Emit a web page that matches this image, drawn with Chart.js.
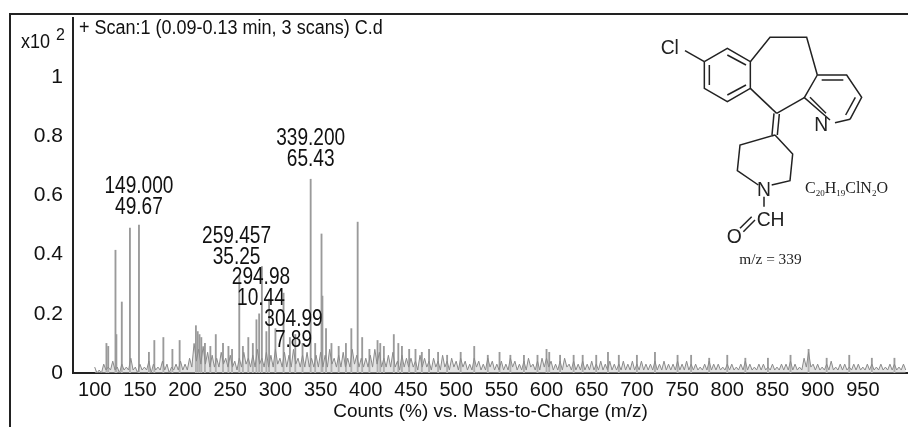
<!DOCTYPE html>
<html>
<head>
<meta charset="utf-8">
<script src="https://cdn.jsdelivr.net/npm/chart.js@4/dist/chart.umd.min.js"></script>
<style>
  body { margin: 0; background: #fff; }
  #wrap { position: relative; width: 908px; height: 427px; overflow: hidden; }
  #frame { position: absolute; left: 9px; top: 13px; width: 905px; height: 420px; border: 2px solid #222; box-sizing: border-box; }
  #mol { position: absolute; left: 620px; top: 0; }
</style>
</head>
<body>
<div id="wrap">
  <canvas id="spec" width="908" height="427"></canvas>
  <div id="frame"></div>
  <svg id="mol" width="288" height="300" viewBox="0 0 864 900" fill="none" stroke="#222" stroke-width="4.5">
    <!-- benzene -->
    <polyline points="253,185 322,145 391,185 391,265 322,305 253,265 253,185"/>
    <line x1="268" y1="195" x2="268" y2="255"/>
    <line x1="322" y1="165" x2="378" y2="195"/>
    <line x1="322" y1="285" x2="378" y2="255"/>
    <line x1="253" y1="185" x2="195" y2="152"/>
    <!-- seven ring -->
    <polyline points="391,185 450,112 560,112 592,225"/>
    <line x1="391" y1="265" x2="470" y2="340"/>
    <line x1="470" y1="340" x2="553" y2="293"/>
    <!-- pyridine -->
    <polyline points="592,225 680,225 725,292 690,358"/>
    <polyline points="630,360 553,293 592,225"/>
    <line x1="605" y1="240" x2="670" y2="240"/>
    <line x1="706" y1="292" x2="677" y2="345"/>
    <line x1="570" y1="292" x2="618" y2="340"/>
    <line x1="645" y1="368" x2="690" y2="358"/>
    <!-- exocyclic double bond -->
    <line x1="462" y1="340" x2="456" y2="405"/>
    <line x1="478" y1="342" x2="472" y2="405"/>
    <!-- piperidine -->
    <polyline points="465,405 518,462 510,542 455,555"/>
    <polyline points="415,555 352,512 360,435 465,405"/>
    <line x1="432" y1="590" x2="432" y2="620"/>
    <line x1="395" y1="650" x2="360" y2="685"/>
    <line x1="405" y1="660" x2="370" y2="695"/>
    <g fill="#222" stroke="none" font-family="Liberation Sans, Arial, sans-serif" font-size="58">
      <text x="122" y="162">Cl</text>
      <text x="583" y="394">N</text>
      <text x="411" y="587">N</text>
      <text x="410" y="677">CH</text>
      <text x="320" y="728">O</text>
    </g>
    <g fill="#222" stroke="none" font-family="Liberation Serif, Times New Roman, serif">
      <text x="555" y="580" font-size="48">C<tspan font-size="27" dy="8">20</tspan><tspan dy="-8">H</tspan><tspan font-size="27" dy="8">19</tspan><tspan dy="-8">ClN</tspan><tspan font-size="27" dy="8">2</tspan><tspan dy="-8">O</tspan></text>
      <text x="358" y="792" font-size="46">m/z = 339</text>
    </g>
  </svg>
</div>
<script>
// noise floor, every 5 m/z from 100 (local maxima)
var noiseStart = 100;
var noiseStep = 5;
var noise = [
  .02,.01,.03,.02,.04,.02,.03,.02,.05,.02,
  .03,.02,.04,.03,.02,.04,.03,.02,.03,.04,
  .03,.05,.10,.08,.09,.07,.06,.05,.07,.05,
  .06,.04,.05,.07,.05,.06,.08,.05,.07,.06,
  .08,.05,.07,.06,.08,.05,.06,.07,.05,.06,
  .07,.06,.08,.05,.06,.07,.05,.08,.06,.05,
  .05,.06,.08,.07,.05,.06,.07,.04,.06,.05,
  .05,.04,.06,.05,.04,.05,.04,.06,.04,.05,
  .04,.05,.04,.03,.05,.04,.03,.05,.04,.03,
  .04,.03,.05,.04,.03,.04,.05,.03,.04,.05,
  .05,.04,.03,.04,.05,.03,.04,.03,.04,.03,
  .04,.03,.04,.03,.04,.03,.03,.04,.03,.04,
  .03,.04,.03,.03,.04,.03,.04,.03,.03,.04,
  .03,.04,.03,.03,.02,.03,.04,.03,.03,.02,
  .03,.03,.02,.03,.04,.03,.02,.03,.03,.02,
  .03,.02,.03,.03,.04,.03,.02,.05,.07,.03,
  .03,.02,.03,.04,.02,.03,.03,.02,.03,.03,
  .02,.03,.03,.02,.03,.02,.03,.03,.02,.03
];
// noise minima, halfway between the maxima above
var noiseLow = [
  .00,.00,.01,.01,.01,.00,.01,.01,.01,.00,
  .01,.01,.00,.01,.01,.01,.00,.01,.01,.01,
  .01,.02,.04,.03,.03,.02,.02,.02,.03,.02,
  .02,.01,.02,.03,.02,.02,.03,.02,.02,.02,
  .03,.02,.02,.02,.03,.02,.02,.02,.02,.02,
  .02,.02,.03,.02,.02,.02,.02,.03,.02,.02,
  .02,.02,.03,.02,.02,.02,.02,.01,.02,.02,
  .02,.01,.02,.02,.01,.02,.01,.02,.01,.02,
  .01,.02,.01,.01,.02,.01,.01,.02,.01,.01,
  .01,.01,.02,.01,.01,.01,.02,.01,.01,.02,
  .02,.01,.01,.01,.02,.01,.01,.01,.01,.01,
  .01,.01,.01,.01,.01,.01,.01,.01,.01,.01,
  .01,.01,.01,.01,.01,.01,.01,.01,.01,.01,
  .01,.01,.01,.01,.01,.01,.01,.01,.01,.01,
  .01,.01,.01,.01,.01,.01,.01,.01,.01,.01,
  .01,.01,.01,.01,.01,.01,.01,.02,.02,.01,
  .01,.01,.01,.01,.01,.01,.01,.01,.01,.01,
  .01,.01,.01,.01,.01,.01,.01,.01,.01,.01
];

// peaks: m/z and intensity (x10^2 counts)
var peakMz = [113, 115, 123, 124, 130, 139, 149, 160, 166, 176, 186, 194, 212, 214, 216, 218, 222, 228, 234, 242, 248, 252, 260, 264, 270, 275, 279, 282, 285, 290, 293, 300, 309, 316, 322, 330, 339, 344, 351, 352, 356, 362, 370, 378, 384, 391, 396, 404, 413, 416, 420, 431, 436, 440, 448, 455, 462, 470, 480, 490, 505, 520, 535, 548, 560, 575, 590, 600, 603, 615, 630, 640, 655, 668, 680, 700, 720, 745, 760, 780, 800, 820, 845, 870, 890, 910, 935, 960, 985];
var peakInt = [0.10, 0.09, 0.415, 0.13, 0.24, 0.49, 0.50, 0.07, 0.11, 0.12, 0.08, 0.11, 0.16, 0.14, 0.13, 0.12, 0.10, 0.09, 0.13, 0.10, 0.09, 0.08, 0.33, 0.09, 0.12, 0.10, 0.18, 0.20, 0.36, 0.14, 0.25, 0.15, 0.27, 0.12, 0.13, 0.10, 0.655, 0.10, 0.47, 0.26, 0.15, 0.10, 0.09, 0.10, 0.15, 0.51, 0.12, 0.08, 0.11, 0.10, 0.09, 0.13, 0.10, 0.09, 0.08, 0.08, 0.07, 0.08, 0.07, 0.06, 0.07, 0.09, 0.06, 0.07, 0.06, 0.06, 0.06, 0.08, 0.07, 0.06, 0.06, 0.06, 0.06, 0.07, 0.06, 0.06, 0.07, 0.06, 0.06, 0.05, 0.06, 0.05, 0.05, 0.06, 0.08, 0.05, 0.06, 0.05, 0.05];

var xTicks = [100, 150, 200, 250, 300, 350, 400, 450, 500, 550, 600, 650, 700, 750, 800, 850, 900, 950];
var yTicks = [0, 0.2, 0.4, 0.6, 0.8, 1];

// peak labels, anchored in data units
var labels = [
  { mz: 149, y: 0.61, top: '149.000', bottom: '49.67' },
  { mz: 339, y: 0.77, top: '339.200', bottom: '65.43' },
  { mz: 257, y: 0.44, top: '259.457', bottom: '35.25' },
  { mz: 284, y: 0.30, top: '294.98', bottom: '10.44' },
  { mz: 320, y: 0.16, top: '304.99', bottom: '7.89' }
];

var noisePts = [];
noise.forEach(function (v, i) {
  noisePts.push({ x: noiseStart + i * noiseStep, y: v });
  noisePts.push({ x: noiseStart + i * noiseStep + noiseStep / 2, y: noiseLow[i] });
});
var peakPts = peakMz.map(function (m, i) { return { x: m, y: peakInt[i] }; });

var FONT = '"Liberation Sans", Arial, sans-serif';

// condensed text, like the instrument's narrow face
function narrow(g, text, x, y, sx) {
  g.save();
  g.translate(x, y);
  g.scale(sx, 1);
  g.fillText(text, 0, 0);
  g.restore();
}

var annot = {
  id: 'annot',
  afterDraw: function (c) {
    var g = c.ctx, xs = c.scales.x, ys = c.scales.y;
    g.save();
    g.fillStyle = '#111';
    g.textAlign = 'center';
    g.font = '23px ' + FONT;
    labels.forEach(function (l) {
      var px = xs.getPixelForValue(l.mz), py = ys.getPixelForValue(l.y);
      narrow(g, l.top, px, py, 0.83);
      narrow(g, l.bottom, px, py + 21, 0.83);
    });
    g.textAlign = 'left';
    g.font = '20px ' + FONT;
    narrow(g, '+ Scan:1 (0.09-0.13 min, 3 scans) C.d', 79, 34, 0.9);
    narrow(g, 'x10', 21, 48, 0.9);
    g.font = '16px ' + FONT;
    g.fillText('2', 56, 40);
    g.restore();
  }
};

new Chart(document.getElementById('spec'), {
  type: 'bar',
  data: {
    datasets: [
      { type: 'line', data: noisePts, borderColor: '#8a8a8a', borderWidth: 1, pointRadius: 0, tension: 0,
        fill: 'origin', backgroundColor: 'rgba(200,200,200,0.5)' },
      { data: peakPts, backgroundColor: '#9a9a9a', barThickness: 1.2 }
    ]
  },
  options: {
    responsive: false,
    animation: false,
    layout: { padding: { top: 18, right: 0, left: 0, bottom: 0 } },
    plugins: { legend: { display: false }, tooltip: { enabled: false } },
    scales: {
      x: {
        type: 'linear', min: 76, max: 1000, offset: false,
        afterBuildTicks: function (s) { s.ticks = xTicks.map(function (v) { return { value: v }; }); },
        grid: { display: false, drawTicks: true, tickLength: 4 },
        border: { color: '#222', width: 2 },
        ticks: { color: '#111', font: { size: 20, family: FONT }, padding: 1, autoSkip: false, maxRotation: 0 },
        title: { display: true, text: 'Counts (%) vs. Mass-to-Charge (m/z)', color: '#111', font: { size: 19, family: FONT }, padding: { top: -6 } },
        afterFit: function (s) { s.height = 54; }
      },
      y: {
        min: 0, max: 1.2,
        afterBuildTicks: function (s) { s.ticks = yTicks.map(function (v) { return { value: v }; }); },
        grid: { display: false, tickLength: 5 },
        border: { color: '#222', width: 2 },
        ticks: { color: '#111', font: { size: 21, family: FONT }, padding: 5, callback: function (v) { return String(v); } },
        afterFit: function (s) { s.width = 73; }
      }
    }
  },
  plugins: [annot]
});
</script>
</body>
</html>
